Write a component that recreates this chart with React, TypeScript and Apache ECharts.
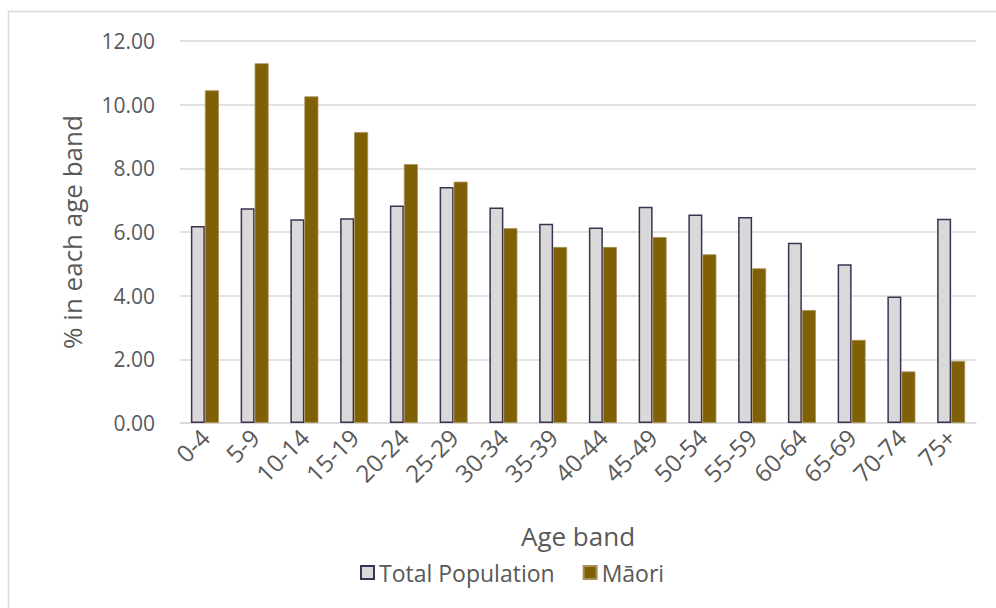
import React, { useEffect, useRef } from "react";
import * as echarts from "echarts";

const categories = ["0-4", "5-9", "10-14", "15-19", "20-24", "25-29", "30-34", "35-39", "40-44", "45-49", "50-54", "55-59", "60-64", "65-69", "70-74", "75+"];
const totalPopulation = [6.19, 6.75, 6.4, 6.43, 6.83, 7.41, 6.77, 6.26, 6.14, 6.79, 6.55, 6.47, 5.66, 4.99, 3.97, 6.42];
const maori = [10.45, 11.3, 10.26, 9.14, 8.13, 7.58, 6.12, 5.53, 5.53, 5.84, 5.3, 4.86, 3.55, 2.61, 1.62, 1.95];

const FONT = "'Open Sans', 'Noto Sans', sans-serif";
const TEXT = "#595959";

export default function App() {
  const ref = useRef<HTMLDivElement>(null);
  useEffect(() => {
    if (!ref.current) return;
    const chart = echarts.init(ref.current, undefined, { renderer: "svg" });
    chart.setOption({
      animation: false,
      backgroundColor: "#ffffff",
      textStyle: { fontFamily: FONT },
      graphic: [
        {
          type: "rect",
          shape: { x: 8.5, y: 11.5, width: 1000, height: 620 },
          style: { fill: "none", stroke: "#d9d9d9", lineWidth: 1.5 },
          silent: true,
        },
      ],
      grid: { left: 180, right: 20, top: 41, bottom: 185, outerBoundsMode: "none" },
      legend: {
        top: 561,
        left: 360,
        padding: 0,
        itemWidth: 13,
        itemHeight: 13,
        itemGap: 28,
        textStyle: { fontFamily: FONT, fontSize: 23, color: TEXT },
        data: [
          { name: "Total Population", icon: "rect" },
          { name: "Māori", icon: "rect" },
        ],
      },
      xAxis: {
        type: "category",
        data: categories,
        name: "Age band",
        nameLocation: "middle",
        nameGap: 100,
        nameTextStyle: { fontFamily: FONT, fontSize: 26, color: TEXT },
        axisLine: { lineStyle: { color: "#d9d9d9", width: 1.5 } },
        axisTick: { show: false },
        axisLabel: {
          rotate: 45,
          interval: 0,
          margin: 10,
          fontFamily: FONT,
          fontSize: 24,
          color: TEXT,
        },
      },
      yAxis: {
        type: "value",
        min: 0,
        max: 12,
        interval: 2,
        name: "% in each age band",
        nameLocation: "middle",
        nameGap: 95,
        nameTextStyle: { fontFamily: FONT, fontSize: 26, color: TEXT },
        axisLine: { show: false },
        axisTick: { show: false },
        splitLine: { lineStyle: { color: "#d9d9d9", width: 1.5 } },
        axisLabel: {
          fontFamily: FONT,
          fontSize: 21,
          color: TEXT,
          margin: 25,
          formatter: (v: number) => v.toFixed(2),
        },
      },
      series: [
        {
          name: "Total Population",
          type: "bar",
          data: totalPopulation,
          barWidth: 14,
          barGap: "0%",
          itemStyle: { color: "#d9d9d9", borderColor: "#3f3151", borderWidth: 1.5 },
        },
        {
          name: "Māori",
          type: "bar",
          data: maori,
          barWidth: 14,
          barGap: "0%",
          itemStyle: { color: "#7f6005", borderColor: "#a89259", borderWidth: 0.8 },
        },
      ],
    });
    return () => chart.dispose();
  }, []);
  return (
    <div
      ref={ref}
      style={{ position: "fixed", left: 0, top: 0, width: 996, height: 608 }}
    />
  );
}
